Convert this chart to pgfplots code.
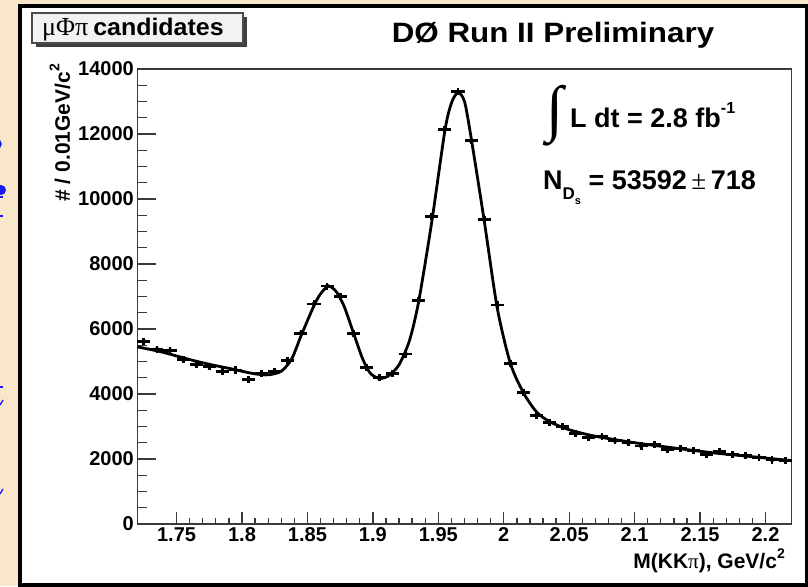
\documentclass[border=0pt]{standalone}
\usepackage{pgfplots}
\pgfplotsset{compat=1.18}
\usepackage{pgfplotstable}
\usetikzlibrary{calc}
\usepackage{fontspec}
\setmainfont{Liberation Sans}
\newfontfamily\symb{Liberation Serif}
\definecolor{cream}{HTML}{F8E7CA}
\definecolor{framegray}{HTML}{3A3A3A}
\definecolor{slideblue}{HTML}{1A1AF0}
\pgfdeclarelayer{background}
\pgfsetlayers{background,main}

% event counts per 0.01 GeV/c^2 bin (bin centres)
\pgfplotstableread{
x y
1.725 5620
1.735 5380
1.745 5340
1.755 5060
1.765 4900
1.775 4840
1.785 4700
1.795 4740
1.805 4440
1.815 4620
1.825 4700
1.835 5030
1.845 5870
1.855 6770
1.865 7320
1.875 7010
1.885 5850
1.895 4820
1.905 4500
1.915 4640
1.925 5230
1.935 6870
1.945 9450
1.955 12150
1.965 13300
1.975 11790
1.985 9380
1.995 6740
2.005 4950
2.015 4040
2.025 3350
2.035 3120
2.045 2990
2.055 2790
2.065 2670
2.075 2690
2.085 2560
2.095 2500
2.105 2400
2.115 2450
2.125 2280
2.135 2330
2.145 2260
2.155 2150
2.165 2220
2.175 2150
2.185 2100
2.195 2050
2.205 1970
2.215 1950
}\data

% fitted signal + background curve
\pgfplotstableread{
x y
1.720 5450
1.730 5370
1.740 5280
1.750 5170
1.760 5060
1.770 4960
1.780 4870
1.790 4790
1.800 4700
1.810 4620
1.820 4590
1.830 4700
1.838 5080
1.845 5780
1.855 6720
1.860 7080
1.866 7320
1.872 7150
1.878 6700
1.885 5900
1.892 5100
1.898 4640
1.905 4480
1.912 4560
1.920 4900
1.928 5650
1.935 6850
1.945 9300
1.955 12100
1.960 12950
1.965 13280
1.970 13000
1.975 11900
1.985 9350
1.995 6650
2.005 4950
2.015 4040
2.025 3450
2.035 3150
2.050 2900
2.070 2700
2.100 2500
2.130 2340
2.160 2190
2.190 2070
2.220 1950
}\fit

\begin{document}
\begin{tikzpicture}[x=1pt,y=1pt]
\begin{axis}[
  name=ax,
  width=654.4pt, height=455pt, scale only axis,
  xmin=1.72, xmax=2.22, ymin=0, ymax=14000,
  xtick={1.75,1.8,1.85,1.9,1.95,2,2.05,2.1,2.15,2.2},
  xticklabels={1.75,1.8,1.85,1.9,1.95,2,2.05,2.1,2.15,2.2},
  ytick={0,2000,4000,6000,8000,10000,12000,14000},
  yticklabels={0,2000,4000,6000,8000,10000,12000,14000},
  minor x tick num=4, minor y tick num=3,
  xtick pos=bottom, ytick pos=left,
  tick align=inside,
  x tick style={/pgfplots/major tick length=12pt,/pgfplots/minor tick length=6pt},
  y tick style={/pgfplots/major tick length=19pt,/pgfplots/minor tick length=10pt},
  tick style={framegray, line width=1.3pt},
  axis line style={framegray, line width=1.3pt},
  tick label style={font=\fontsize{20}{20}\selectfont\bfseries},
  /pgf/number format/assume math mode=true,
  scaled ticks=false,
  clip=false,
]
\addplot[black, line width=2.8pt, smooth, tension=0.45] table {\fit};
\addplot[only marks, mark=none,
  error bars/.cd, x dir=both, x fixed=0.005, y dir=both, y fixed=110,
  error mark=none, error bar style={black, line width=2.8pt}]
  table {\data};
\end{axis}

% page coordinates: origin at the lower left corner of the panel
\begin{scope}[shift={($(ax.south west)+(-137.3,-62)$)}]
\useasboundingbox (0,0) rectangle (808,586);
\begin{pgfonlayer}{background}
\fill[cream] (0,0) rectangle (808,586);
\fill[white] (20.5,1) rectangle (806.5,580);
\end{pgfonlayer}
% edges of the slide lettering behind the panel
\begin{scope}[slideblue]
\clip (0,0) rectangle (18,586);
\draw[line width=1.6pt] (-3,446) arc[start angle=90, end angle=-90, radius=4];
\fill (1,396) circle[radius=5];
\fill (0,387.5) rectangle (3.5,389.5);
\fill (0,368.5) rectangle (3,370.5);
\fill (0,198) rectangle (3.5,200);
\draw[line width=1.3pt] (0,181) -- (3,186);
\draw[line width=1.3pt] (0,92) -- (3,97);
\end{scope}
\draw[black, line width=4pt] (20.5,1) rectangle (806.5,580);

% title box with drop shadow
\fill[black!75] (36,539) rectangle (247,569);
\filldraw[fill=black!5, draw=black!70, line width=1.2pt] (32,543) rectangle (243,573);
\node[anchor=base west, inner sep=0] at (42,550)
  {{\fontsize{26}{26}\selectfont\symb μΦπ}\hspace{5pt}\scalebox{1.04}[1]{\fontsize{24}{24}\selectfont\bfseries candidates}};

% experiment label
\node[anchor=base, inner sep=0] at (553,543)
  {\scalebox{1.12}[1]{\fontsize{28}{28}\selectfont\bfseries DØ Run II Preliminary}};

% luminosity and yield
\node[anchor=center, inner sep=0] at (555,470)
  {\fontsize{62}{62}\selectfont\symb ∫};
\node[anchor=base west, inner sep=0] at (570,458)
  {\fontsize{27}{27}\selectfont\bfseries L dt = 2.8 fb\raisebox{0.55em}{\fontsize{16}{16}\selectfont -1}};
\node[anchor=base west, inner sep=0] at (543,396)
  {\fontsize{27}{27}\selectfont\bfseries N\raisebox{-0.35em}{\fontsize{17}{17}\selectfont D\raisebox{-0.3em}{\fontsize{11}{11}\selectfont s}} = 53592\,{\mdseries\symb ±}\,718};

% axis titles
\node[rotate=90, anchor=base east, inner sep=0] at (70,522)
  {\fontsize{21}{21}\selectfont\bfseries \# / 0.01GeV/c\raisebox{0.5em}{\fontsize{14}{14}\selectfont 2}};
\node[anchor=base east, inner sep=0] at (785,17)
  {\fontsize{21}{21}\selectfont\bfseries M(KK{\mdseries\symb π}), GeV/c\raisebox{0.5em}{\fontsize{14}{14}\selectfont 2}};
\end{scope}
\end{tikzpicture}
\end{document}
